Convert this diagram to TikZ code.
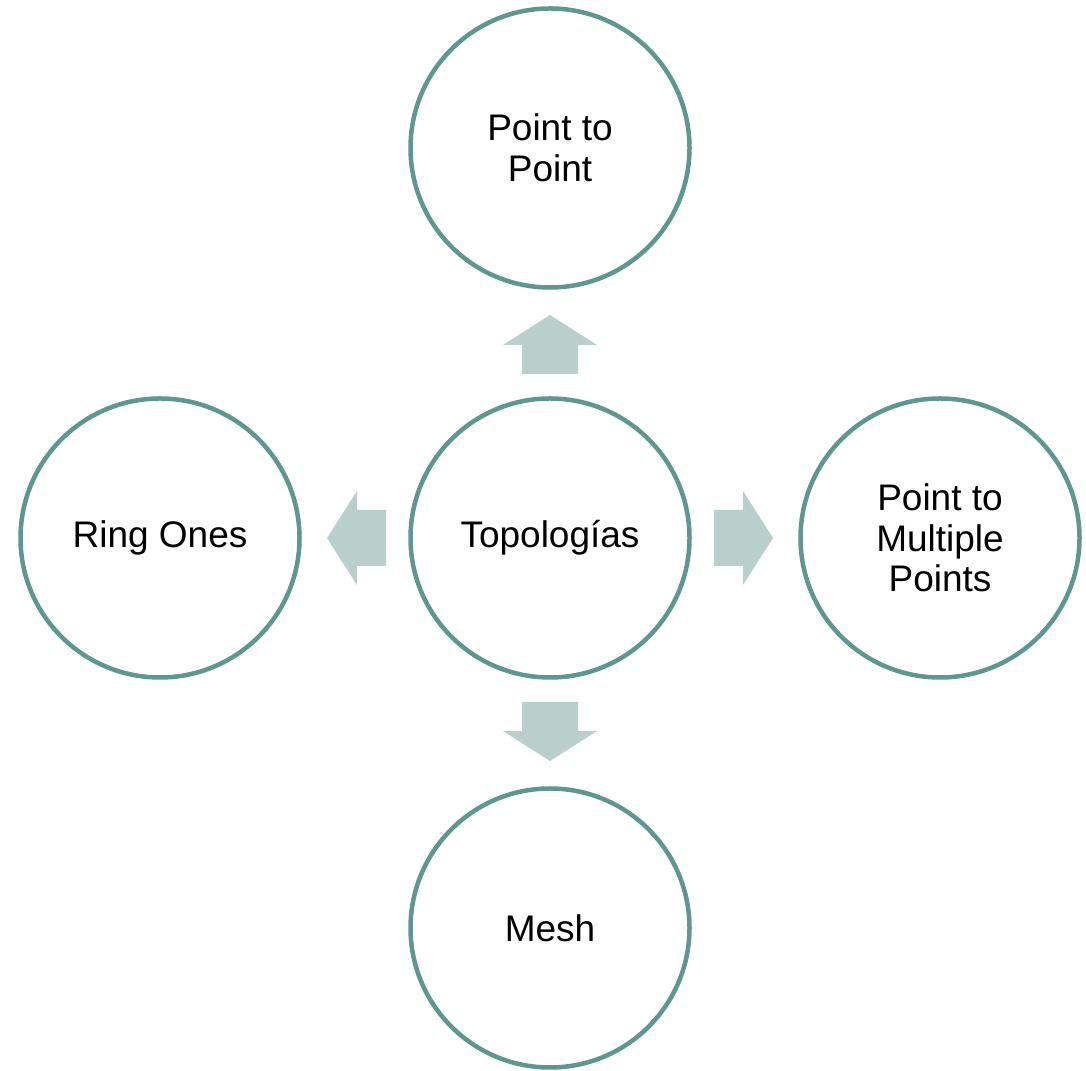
\documentclass[tikz,border=0pt]{standalone}
\usepackage{fontspec}
\setmainfont{Liberation Sans}
\definecolor{ringteal}{RGB}{94,150,144}
\definecolor{arrowteal}{RGB}{184,207,204}
\tikzset{
  topic/.style={circle, draw=ringteal, line width=4.5pt, fill=white,
    minimum size=279pt, inner sep=0pt, align=center,
    font=\fontsize{37}{40.5}\selectfont},
  blockarrow/.pic={
    \fill[arrowteal] (164,-28) -- (193,-28) -- (193,-47) -- (223,0)
      -- (193,47) -- (193,28) -- (164,28) -- cycle;
  }
}
\begin{document}
\begin{tikzpicture}[x=1pt,y=1pt]
  \useasboundingbox (0,0) rectangle (1086,1070);
  \node[topic] (hub)   at (550,532) {\raisebox{-2pt}{Topologías}};
  \node[topic] (p2p)   at (550,922) {Point to\\Point};
  \node[topic] (ring)  at (160,532) {\raisebox{-2pt}{Ring Ones}};
  \node[topic] (multi) at (940,532) {Point to\\Multiple\\Points};
  \node[topic] (mesh)  at (550,142) {\raisebox{-2pt}{Mesh}};
  % block arrows radiating from the hub
  \pic[rotate=90]  at (hub.center) {blockarrow};
  \pic[rotate=180] at (hub.center) {blockarrow};
  \pic[rotate=0]   at (hub.center) {blockarrow};
  \pic[rotate=270] at (hub.center) {blockarrow};
\end{tikzpicture}
\end{document}
